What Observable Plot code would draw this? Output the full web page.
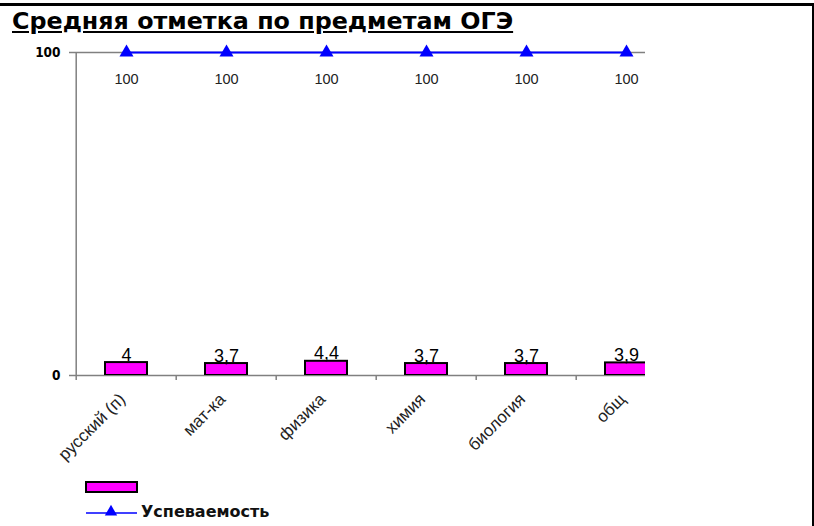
<!DOCTYPE html>
<html>
<head>
<meta charset="utf-8">
<script src="https://cdn.jsdelivr.net/npm/d3@7"></script>
<script src="https://cdn.jsdelivr.net/npm/@observablehq/plot@0.6"></script>
<style>
  html, body { margin: 0; padding: 0; background: #fff; }
  #wrap { position: relative; width: 814px; height: 526px; overflow: hidden; background: #fff; }
  #topline { position: absolute; left: 0; top: 3px; width: 814px; height: 3px; background: #000; }
  #rightline { position: absolute; left: 812px; top: 3px; width: 2px; height: 523px; background: #000; }
  #title { position: absolute; left: 12px; top: 7px; font-family: "DejaVu Sans", sans-serif; font-weight: bold;
           font-size: 23.8px; line-height: 28px; text-decoration: underline; color: #000; white-space: nowrap; }
  #chart { position: absolute; left: 0; top: 0; }
  #legend { position: absolute; left: 0; top: 0; }
  #legtext { position: absolute; left: 141px; top: 502px; font-family: "DejaVu Sans", sans-serif; font-weight: bold;
             font-size: 16px; line-height: 20px; color: #111; white-space: nowrap; }
</style>
</head>
<body>
<div id="wrap">
  <div id="chart"></div>
  <div id="topline"></div>
  <div id="rightline"></div>
  <div id="title"></div>
  <svg id="legend" width="814" height="526"></svg>
  <div id="legtext"></div>
</div>
<script>
const categories = ["русский (п)", "мат-ка", "физика", "химия", "биология", "общ"];
const averageMark = [4, 3.7, 4.4, 3.7, 3.7, 3.9];
const successRate = [100, 100, 100, 100, 100, 100];
const yTicks = [0, 100];
const seriesName = "Успеваемость";
const titleText = "Средняя отметка по предметам ОГЭ";

document.getElementById("title").textContent = titleText;
document.getElementById("legtext").textContent = seriesName;

const bars = categories.map((c, i) => ({cat: c, val: averageMark[i]}));
const rate = categories.map((c, i) => ({cat: c, val: successRate[i]}));
const fmt = v => String(v).replace(".", ",");

const gray = "#808080";
const band = (677.6 - 74) / categories.length;

const chart = Plot.plot({
  width: 814,
  height: 526,
  marginLeft: 74,
  marginRight: 169,
  marginTop: 52,
  marginBottom: 151,
  style: {fontFamily: "Liberation Sans, Arial, sans-serif", background: "transparent"},
  x: {type: "band", domain: categories, range: [74, 677.6], padding: 0, axis: null},
  y: {domain: [0, 100], axis: null},
  marks: [
    Plot.ruleY(yTicks, {stroke: gray, strokeWidth: 1.5}),
    Plot.ruleX([categories[0]], {x: d => d, dx: -band / 2, stroke: gray, strokeWidth: 1.5}),
    Plot.axisY({ticks: yTicks, tickSize: 5, tickPadding: 9, stroke: gray, strokeWidth: 1.5, label: null,
                fontWeight: "bold", fontSize: 13.5, fontFamily: "DejaVu Sans Condensed, DejaVu Sans, sans-serif", fill: "#000", tickFormat: d => String(d)}),
    Plot.axisX({tickSize: 5, fill: "none", dx: -band / 2, stroke: gray, strokeWidth: 1.5, label: null, tickFormat: () => ""}),
    Plot.axisX({tickSize: 0, tickPadding: 21, dx: -4, tickRotate: -45, fontSize: 17, fill: "#222", label: null}),
    Plot.barY(bars, {x: "cat", y: "val", fill: "#ff00ff", stroke: "#000", strokeWidth: 2,
                     insetLeft: 29, insetRight: 29, clip: true}),
    Plot.text(bars, {x: "cat", y: "val", text: d => fmt(d.val), dy: -2, lineAnchor: "bottom",
                     fontSize: 18, fill: "#000", clip: true}),
    Plot.line(rate, {x: "cat", y: "val", stroke: "#0000ff", strokeWidth: 2}),
    Plot.dot(rate, {x: "cat", y: "val", symbol: "triangle", r: 5.2, fill: "#0000ff", stroke: "none"}),
    Plot.text(rate, {x: "cat", y: "val", text: d => String(d.val), dy: 27, fontSize: 14.5, fill: "#222"})
  ]
});
document.getElementById("chart").appendChild(chart);

// legend symbols
const leg = d3.select("#legend");
leg.append("rect").attr("x", 86).attr("y", 482).attr("width", 51).attr("height", 10)
  .attr("fill", "#ff00ff").attr("stroke", "#000").attr("stroke-width", 2);
leg.append("line").attr("x1", 86).attr("x2", 137).attr("y1", 513).attr("y2", 513)
  .attr("stroke", "#0000ff").attr("stroke-width", 1.5);
leg.append("path").attr("d", d3.symbol(d3.symbolTriangle, 66)()).attr("transform", "translate(111,512)")
  .attr("fill", "#0000ff");
</script>
</body>
</html>
